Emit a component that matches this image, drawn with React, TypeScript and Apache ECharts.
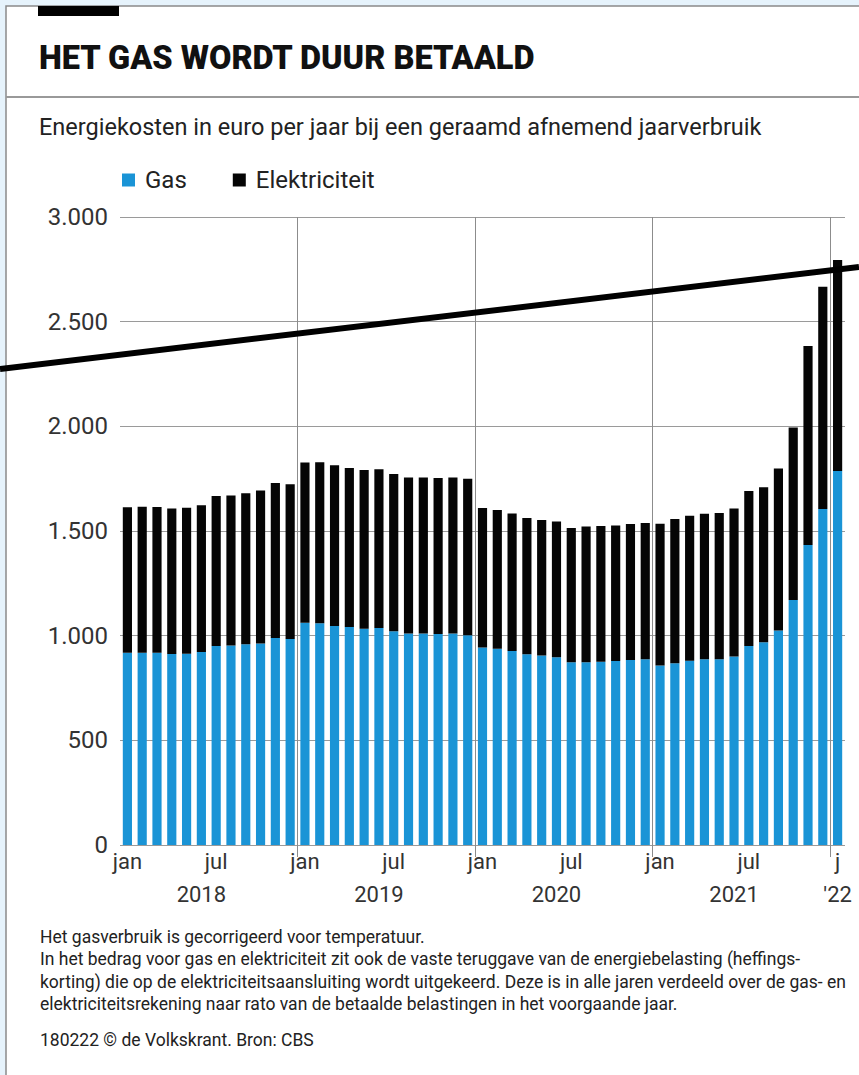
import React, { useEffect, useRef } from "react";
import * as echarts from "echarts";

const monthNames = ["jan", "feb", "mrt", "apr", "mei", "jun", "jul", "aug", "sep", "okt", "nov", "dec"];
const years = ["2018", "2019", "2020", "2021", "2022"];
const categories: string[] = [];
years.forEach((y) => monthNames.forEach((m) => { if (categories.length < 49) categories.push(`${m} ${y}`); }));

const gas = [
  918, 918, 918, 912, 914, 922, 951, 953, 959, 963, 989, 984,
  1062, 1059, 1046, 1041, 1033, 1037, 1021, 1010, 1010, 1008, 1010, 1002,
  944, 938, 927, 911, 905, 897, 873, 873, 875, 879, 884, 887,
  857, 868, 880, 887, 887, 900, 951, 968, 1025, 1170, 1433, 1605,
  1787,
];
const elektriciteit = [
  695, 698, 697, 695, 697, 701, 716, 717, 721, 731, 740, 739,
  765, 769, 768, 760, 758, 758, 751, 746, 746, 745, 745, 748,
  666, 662, 657, 651, 648, 648, 641, 648, 649, 647, 649, 651,
  678, 689, 693, 696, 699, 708, 740, 741, 774, 825, 951, 1062,
  1008,
];
const yearLabels = ["2018", "2019", "2020", "2021", "'22"];
const yTicks = { min: 0, max: 3000, interval: 500 };

const footnotes = [
  "Het gasverbruik is gecorrigeerd voor temperatuur.",
  "In het bedrag voor gas en elektriciteit zit ook de vaste teruggave van de energiebelasting (heffings-",
  "korting) die op de elektriciteitsaansluiting wordt uitgekeerd. Deze is in alle jaren verdeeld over de gas- en",
  "elektriciteitsrekening naar rato van de betaalde belastingen in het voorgaande jaar.",
];
const credit = "180222 © de Volkskrant. Bron: CBS";

const FONT = "Roboto, 'Noto Sans', sans-serif";
const BLUE = "#1a94d6";

export default function App() {
  const ref = useRef<HTMLDivElement>(null);
  useEffect(() => {
    if (!ref.current) return;
    const chart = echarts.init(ref.current, null, { renderer: "svg" });
    const gridLeft = 120, gridRight = 14, gridTop = 217, gridBottom = 230;
    chart.setOption({
      animation: false,
      backgroundColor: "#e6f3fc",
      textStyle: { fontFamily: FONT },
      title: [
        { text: "HET GAS WORDT DUUR BETAALD", left: 39, top: 41, padding: 0, textStyle: { fontSize: 32.5, fontWeight: 900, color: "#111", fontFamily: FONT } },
        { text: "Energiekosten in euro per jaar bij een geraamd afnemend jaarverbruik", left: 39, top: 115, padding: 0, textStyle: { fontSize: 23.5, fontWeight: "normal", color: "#222", fontFamily: FONT } },
      ],
      legend: {
        data: ["Gas", "Elektriciteit"],
        left: 122, top: 168, padding: 0, icon: "rect", itemWidth: 13, itemHeight: 13, itemGap: 46,
        textStyle: { fontSize: 24, color: "#222", fontFamily: FONT, padding: [0, 0, 0, 5] },
      },
      grid: [
        { left: gridLeft, right: gridRight, top: gridTop, bottom: gridBottom, containLabel: false },
        { left: gridLeft, right: gridRight, top: gridTop, bottom: 1075 - 857, containLabel: false },
      ],
      xAxis: [
        {
          type: "category", data: categories, gridIndex: 0,
          axisLine: { show: false }, axisTick: { show: false },
          axisLabel: {
            interval: (i: number) => i % 6 === 0,
            formatter: (v: string, i: number) => (i === 48 ? "j" : v.split(" ")[0]),
            fontSize: 22, color: "#333", margin: 5, fontFamily: FONT,
          },
        },
        {
          type: "category", data: categories, gridIndex: 0, position: "bottom", offset: 32,
          axisLine: { show: false }, axisTick: { show: false },
          axisLabel: {
            interval: (i: number) => i % 12 === 5 || i === 48,
            formatter: (v: string, i: number) => (i === 48 ? yearLabels[4] : yearLabels[Math.floor(i / 12)]),
            fontSize: 22, color: "#333", margin: 6, fontFamily: FONT,
          },
        },
        {
          type: "category", data: categories, gridIndex: 1,
          axisLine: { show: false }, axisTick: { show: false }, axisLabel: { show: false },
          splitLine: {
            show: true, showMinLine: false, showMaxLine: false,
            interval: (i: number) => i % 12 === 0,
            lineStyle: { color: "#8c8c8c", width: 1 },
          },
        },
      ],
      yAxis: [
        {
          type: "value", gridIndex: 0, min: yTicks.min, max: yTicks.max, interval: yTicks.interval,
          axisLine: { show: false }, axisTick: { show: false },
          axisLabel: {
            fontSize: 24, color: "#333", margin: 12, fontFamily: FONT,
            formatter: (v: number) => (v >= 1000 ? `${Math.floor(v / 1000)}.${String(v % 1000).padStart(3, "0")}` : String(v)),
          },
          splitLine: { lineStyle: { color: "#9a9a9a", width: 1 } },
        },
        {
          type: "value", gridIndex: 1, min: 0, max: 1, show: false,
        },
      ],
      series: [
        {
          name: "Gas", type: "bar", stack: "total", data: gas, xAxisIndex: 0, yAxisIndex: 0,
          barWidth: "62%", itemStyle: { color: BLUE }, z: 3,
        },
        {
          name: "Elektriciteit", type: "bar", stack: "total", data: elektriciteit, xAxisIndex: 0, yAxisIndex: 0,
          barWidth: "62%", itemStyle: { color: "#050505" }, z: 3,
        },
      ],
      graphic: [
        { type: "rect", z: -10, shape: { x: 6, y: 6, width: 870, height: 1090 }, style: { fill: "#ffffff", stroke: "#8a8a8a", lineWidth: 1.5 } },
        { type: "rect", z: 5, shape: { x: 38, y: 6, width: 81, height: 10 }, style: { fill: "#000" } },
        { type: "line", z: 5, shape: { x1: 6, y1: 97, x2: 859, y2: 97 }, style: { stroke: "#999", lineWidth: 2 } },
        ...footnotes.map((t, i) => ({
          type: "text", z: 5, style: { text: t, x: 40, y: 937 + i * 22.3, fontSize: 17.5, fill: "#222", fontFamily: FONT, verticalAlign: "middle" },
        })),
        { type: "text", z: 5, style: { text: credit, x: 40, y: 1040, fontSize: 17.5, fill: "#222", fontFamily: FONT, verticalAlign: "middle" } },
        { type: "line", z: 100, shape: { x1: 0, y1: 369, x2: 859, y2: 267 }, style: { stroke: "#000", lineWidth: 6 } },
      ],
    });
    return () => chart.dispose();
  }, []);
  return <div ref={ref} style={{ position: "absolute", left: 0, top: 0, width: 859, height: 1075 }} />;
}
